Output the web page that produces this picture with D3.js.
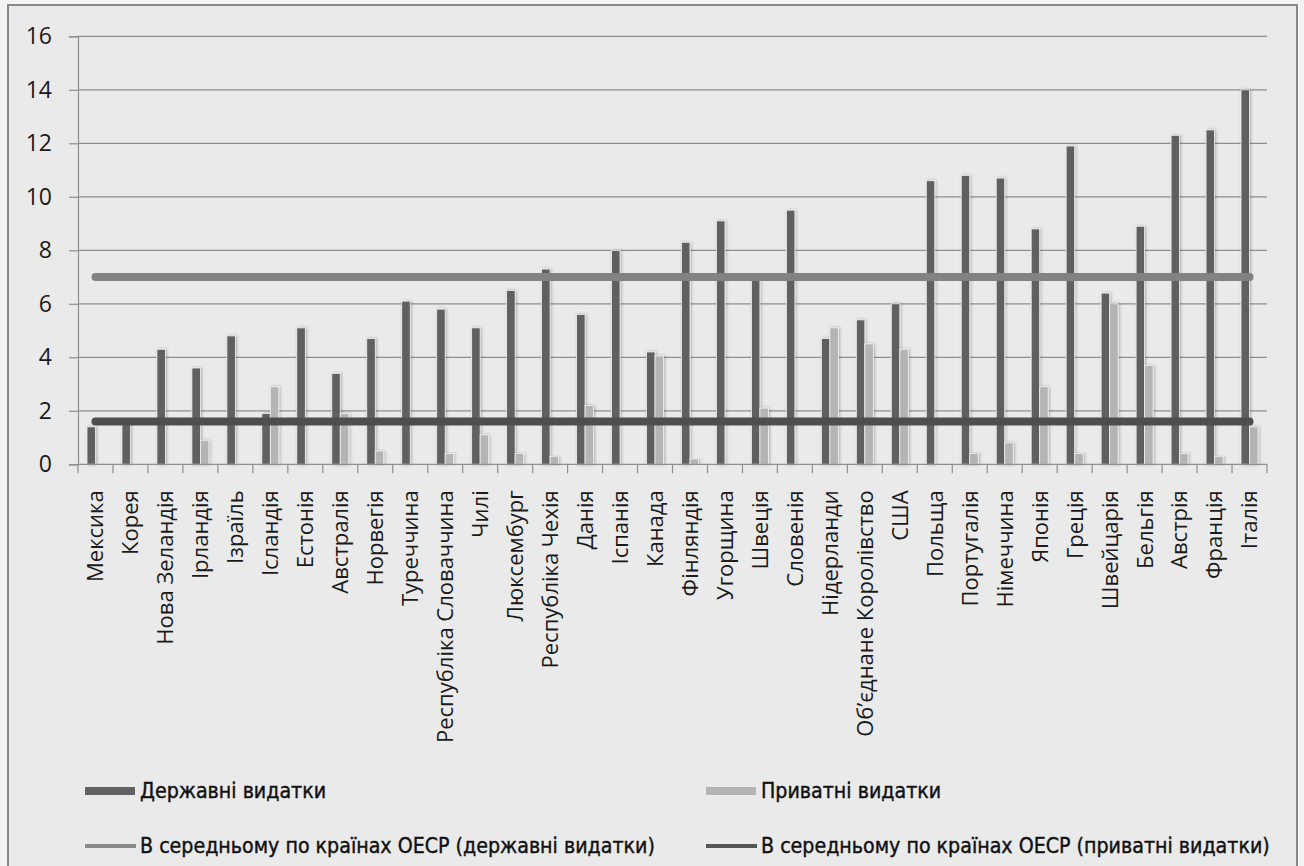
<!DOCTYPE html>
<html>
<head>
<meta charset="utf-8">
<script src="https://cdn.jsdelivr.net/npm/d3@7/dist/d3.min.js"></script>
<style>
  html, body { margin: 0; padding: 0; background: #f4f4f4; }
  svg { display: block; }
</style>
</head>
<body>
<svg id="chart" width="1304" height="866"></svg>
<script>
// Pension spending, % of GDP: public vs private, by OECD country
const countries = [
  "Мексика", "Корея", "Нова Зеландія", "Ірландія", "Ізраїль", "Ісландія", "Естонія",
  "Австралія", "Норвегія", "Туреччина", "Республіка Словаччина", "Чилі", "Люксембург",
  "Республіка Чехія", "Данія", "Іспанія", "Канада", "Фінляндія", "Угорщина", "Швеція",
  "Словенія", "Нідерланди", "Об’єднане Королівство", "США", "Польща", "Португалія",
  "Німеччина", "Японія", "Греція", "Швейцарія", "Бельгія", "Австрія", "Франція", "Італія"
];
const publicSpending = [
  1.4, 1.5, 4.3, 3.6, 4.8, 1.9, 5.1, 3.4, 4.7, 6.1, 5.8, 5.1, 6.5, 7.3, 5.6, 8.0, 4.2,
  8.3, 9.1, 7.0, 9.5, 4.7, 5.4, 6.0, 10.6, 10.8, 10.7, 8.8, 11.9, 6.4, 8.9, 12.3, 12.5, 14.0
];
const privateSpending = [
  0, 0, 0, 0.9, 0, 2.9, 0, 1.9, 0.5, 0, 0.4, 1.1, 0.4, 0.3, 2.2, 0, 4.05,
  0.2, 0, 2.1, 0, 5.1, 4.5, 4.3, 0, 0.4, 0.8, 2.9, 0.4, 6.0, 3.7, 0.4, 0.3, 1.4
];
const oecdAvgPublic = 7.0;
const oecdAvgPrivate = 1.6;
const yTicks = [0, 2, 4, 6, 8, 10, 12, 14, 16];

const seriesNames = ["Державні видатки", "Приватні видатки"];
const avgNames = [
  "В середньому по країнах ОЕСР (державні видатки)",
  "В середньому по країнах ОЕСР (приватні видатки)"
];

const colors = {
  pub: "#616161", priv: "#b4b4b4",
  avgPub: "#828282", avgPriv: "#4e4e4e",
  grid: "#8e8e8e", text: "#1a1a1a"
};
const labelFont = "'Open Sans', 'DejaVu Sans', sans-serif";
const legendFont = "'DejaVu Sans Condensed', 'Liberation Sans', sans-serif";

const svg = d3.select("#chart");
const plot = { left: 78, right: 1267, top: 36.3, bottom: 464.3 };

// chart frame
svg.append("rect")
  .attr("x", 8).attr("y", 5).attr("width", 1289).attr("height", 870)
  .attr("fill", "#eaeaea").attr("stroke", "#8a8a8a").attr("stroke-width", 2);

const defs = svg.append("defs");
const shadow = defs.append("filter").attr("id", "barShadow")
  .attr("x", "-60%").attr("y", "-10%").attr("width", "220%").attr("height", "120%");
shadow.append("feDropShadow")
  .attr("dx", 1).attr("dy", 0).attr("stdDeviation", 1.6)
  .attr("flood-color", "#000").attr("flood-opacity", 0.28);

const x0 = d3.scaleBand().domain(countries)
  .range([plot.left, plot.right]).paddingInner(0.514).paddingOuter(0.257);
const x1 = d3.scaleBand().domain(["pub", "priv"]).range([0, x0.bandwidth()]);
const y = d3.scaleLinear().domain([0, 16]).range([plot.bottom, plot.top]);

// horizontal gridlines
svg.append("g").selectAll("line").data(yTicks.filter(d => d > 0)).join("line")
  .attr("x1", plot.left).attr("x2", plot.right)
  .attr("y1", d => y(d)).attr("y2", d => y(d))
  .attr("stroke", colors.grid).attr("stroke-width", 1.2);

// y axis
const yAxis = svg.append("g").attr("transform", `translate(${plot.left},0)`)
  .call(d3.axisLeft(y).tickValues(yTicks).tickSize(9).tickPadding(17).tickFormat(d3.format("d")));
yAxis.select(".domain").attr("stroke", colors.grid).attr("stroke-width", 1.2);
yAxis.selectAll(".tick line").attr("stroke", colors.grid).attr("stroke-width", 1.2);
yAxis.selectAll("text").attr("fill", colors.text)
  .style("font-family", labelFont).style("font-size", "23px");

// bars
const groups = svg.append("g").selectAll("g").data(countries).join("g")
  .attr("transform", d => `translate(${x0(d)},0)`);
groups.each(function(c, i) {
  const g = d3.select(this);
  const vals = [["pub", publicSpending[i]], ["priv", privateSpending[i]]].filter(v => v[1] > 0);
  g.selectAll("rect").data(vals).join("rect")
    .attr("x", d => x1(d[0]))
    .attr("width", x1.bandwidth())
    .attr("y", d => y(d[1]))
    .attr("height", d => y(0) - y(d[1]))
    .attr("fill", d => colors[d[0]])
    .attr("stroke", "#f2f2f2").attr("stroke-width", 0.8)
    .attr("filter", "url(#barShadow)");
});

// x axis: baseline, category boundary ticks, rotated labels
const xAxis = svg.append("g").attr("transform", `translate(0,${plot.bottom})`)
  .call(d3.axisBottom(x0).tickSize(0).tickPadding(0));
xAxis.select(".domain").remove();
xAxis.selectAll(".tick text")
  .attr("transform", "translate(0,26) rotate(-90)")
  .attr("text-anchor", "end").attr("x", 0).attr("y", 0).attr("dy", "0.36em")
  .attr("fill", colors.text)
  .style("font-family", labelFont).style("font-size", "22px");

const bounds = d3.range(countries.length + 1).map(i => x0.range()[0] + i * x0.step());
svg.append("line")
  .attr("x1", plot.left).attr("x2", plot.right)
  .attr("y1", plot.bottom).attr("y2", plot.bottom)
  .attr("stroke", colors.grid).attr("stroke-width", 1.2);
svg.append("g").selectAll("line").data(bounds).join("line")
  .attr("x1", d => d).attr("x2", d => d)
  .attr("y1", plot.bottom).attr("y2", plot.bottom + 9)
  .attr("stroke", colors.grid).attr("stroke-width", 1.2);

// OECD average lines
const centre = c => x0(c) + x0.bandwidth() / 2;
const avgLine = v => d3.line().x(c => centre(c)).y(() => y(v))(countries);
svg.append("path").attr("d", avgLine(oecdAvgPublic))
  .attr("fill", "none").attr("stroke", colors.avgPub)
  .attr("stroke-width", 8).attr("stroke-linecap", "round");
svg.append("path").attr("d", avgLine(oecdAvgPrivate))
  .attr("fill", "none").attr("stroke", colors.avgPriv)
  .attr("stroke-width", 8).attr("stroke-linecap", "round");

// legend
const legend = svg.append("g").style("font-family", legendFont).style("font-size", "21.2px");
const legendItems = [
  { x: 85, y: 791, kind: "box", color: colors.pub, text: seriesNames[0] },
  { x: 706, y: 791, kind: "box", color: colors.priv, text: seriesNames[1] },
  { x: 85, y: 846, kind: "line", color: "#8a8a8a", text: avgNames[0] },
  { x: 706, y: 846, kind: "line", color: "#555555", text: avgNames[1] }
];
legendItems.forEach(it => {
  if (it.kind === "box") {
    legend.append("rect").attr("x", it.x).attr("y", it.y - 4)
      .attr("width", 50).attr("height", 8).attr("fill", it.color);
  } else {
    legend.append("line").attr("x1", it.x).attr("x2", it.x + 51)
      .attr("y1", it.y).attr("y2", it.y)
      .attr("stroke", it.color).attr("stroke-width", 4);
  }
  legend.append("text")
    .attr("x", it.x + 55).attr("y", it.y).attr("dy", "0.35em")
    .attr("fill", "#111").attr("stroke", "#111").attr("stroke-width", 0.4)
    .text(it.text);
});
</script>
</body>
</html>
